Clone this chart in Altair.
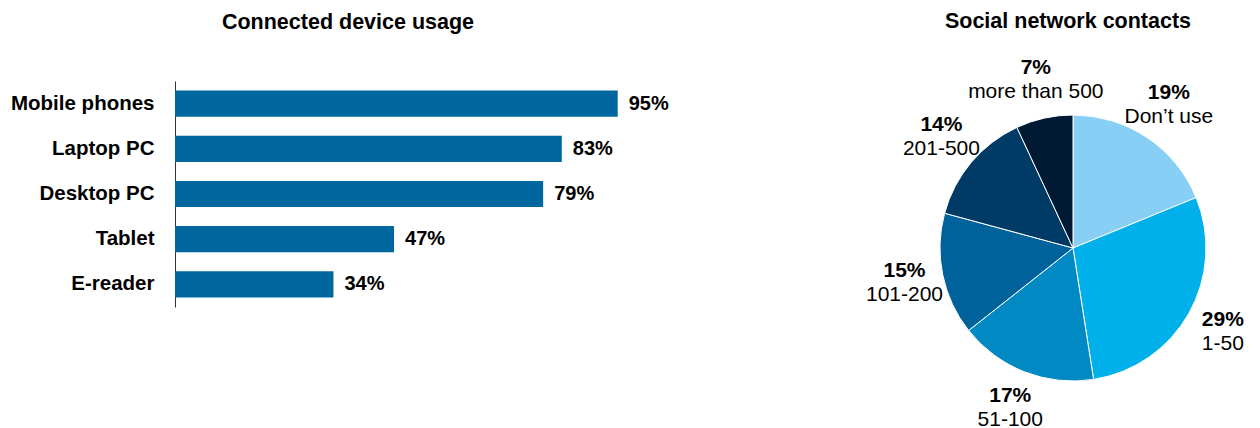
import altair as alt
import pandas as pd

# ---- data ----
devices = ["Mobile phones", "Laptop PC", "Desktop PC", "Tablet", "E-reader"]
usage = [95, 83, 79, 47, 34]

contacts = ["Don\u2019t use", "1-50", "51-100", "101-200", "201-500", "more than 500"]
shares = [19, 29, 17, 15, 14, 7]

slice_colors = ["#87CFF4", "#00B0EB", "#0089C2", "#00629B", "#003B67", "#001A34"]
bar_color = "#00669E"
FONT = "Liberation Sans"

# ---- bar chart ----
bar_df = pd.DataFrame({"device": devices, "usage": usage})
bar_df["label"] = [f"{v}%" for v in usage]

y_enc = alt.Y(
    "device:N",
    sort=devices,
    scale=alt.Scale(paddingInner=0.42, paddingOuter=0.21),
    axis=alt.Axis(
        title=None, labelFont=FONT, labelFontSize=20.5, labelFontWeight="bold",
        labelColor="black", labelPadding=21, ticks=False, tickSize=0,
        domainColor="#333333", domainWidth=1, grid=False,
    ),
)
x_enc = alt.X("usage:Q", scale=alt.Scale(domain=[0, 100]), axis=None)

bars = alt.Chart(bar_df).mark_bar(color=bar_color).encode(x=x_enc, y=y_enc)
bar_text = alt.Chart(bar_df).mark_text(
    align="left", baseline="middle", dx=11, font=FONT, fontSize=20,
    fontWeight="bold", color="black",
).encode(x=x_enc, y=y_enc, text="label:N")

bar_chart = alt.layer(bars, bar_text).properties(
    width=466, height=226,
    title=alt.TitleParams(
        "Connected device usage", font=FONT, fontSize=21.5, fontWeight="bold",
        color="black", anchor="middle", baseline="alphabetic", frame="group",
        dx=-60, offset=31,
    ),
)

# ---- pie chart ----
pie_df = pd.DataFrame({"contact": contacts, "share": shares, "order": list(range(len(contacts)))})
pie_df["pct"] = [f"{v}%" for v in shares]

theta = alt.Theta("share:Q", stack=True)
order = alt.Order("order:Q")
color = alt.Color("contact:N", scale=alt.Scale(domain=contacts, range=slice_colors), legend=None)

arcs = alt.Chart(pie_df).mark_arc(radius=133, stroke="white", strokeWidth=1).encode(
    theta=theta, color=color, order=order
)
pct_text = alt.Chart(pie_df).mark_text(
    radius=172, dy=-12, font=FONT, fontSize=21, fontWeight="bold", color="black",
    baseline="middle",
).encode(theta=theta, order=order, detail="contact:N", text="pct:N")
cat_text = alt.Chart(pie_df).mark_text(
    radius=172, dy=12, font=FONT, fontSize=21, fontWeight="normal", color="black",
    baseline="middle",
).encode(theta=theta, order=order, detail="contact:N", text="contact:N")

pie_chart = alt.layer(arcs, pct_text, cat_text).properties(
    width=334, height=334,
    title=alt.TitleParams(
        "Social network contacts", font=FONT, fontSize=21.5, fontWeight="bold",
        color="black", anchor="middle", baseline="alphabetic", frame="group",
        dx=-5, dy=-8, offset=0,
    ),
)

chart = (
    alt.hconcat(bar_chart, pie_chart, spacing=196)
    .configure_view(stroke=None)
    .properties(padding={"left": 10, "top": 10, "right": 0, "bottom": 0}, background="white")
)

chart.save("out.html", embed_options={"renderer": "svg", "actions": False})
